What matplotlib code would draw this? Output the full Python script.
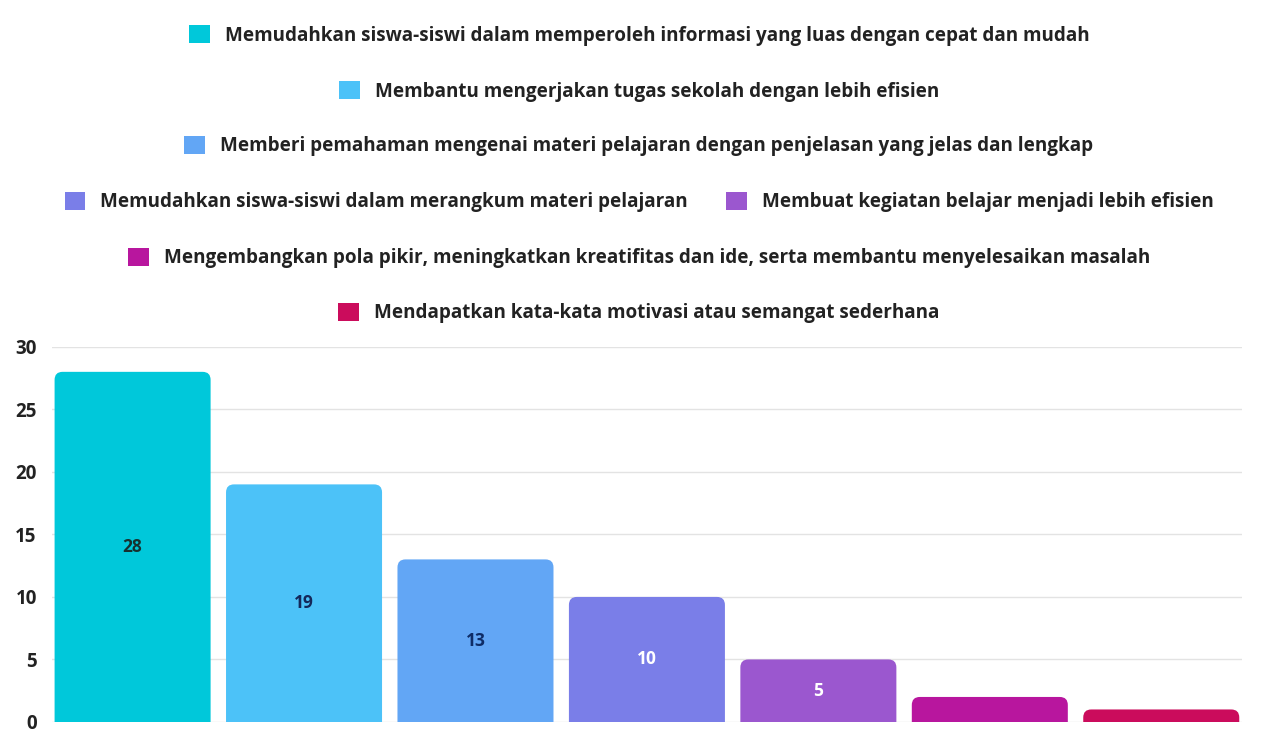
import matplotlib
matplotlib.use("Agg")
import matplotlib.pyplot as plt
from matplotlib.patches import FancyBboxPatch, Patch

categories = [
    "Memudahkan siswa-siswi dalam memperoleh informasi yang luas dengan cepat dan mudah",
    "Membantu mengerjakan tugas sekolah dengan lebih efisien",
    "Memberi pemahaman mengenai materi pelajaran dengan penjelasan yang jelas dan lengkap",
    "Memudahkan siswa-siswi dalam merangkum materi pelajaran",
    "Membuat kegiatan belajar menjadi lebih efisien",
    "Mengembangkan pola pikir, meningkatkan kreatifitas dan ide, serta membantu menyelesaikan masalah",
    "Mendapatkan kata-kata motivasi atau semangat sederhana",
]
values = [28, 19, 13, 10, 5, 2, 1]
colors = ["#00C8DA", "#4CC2F8", "#62A6F5", "#7A7EE8", "#9B57CF", "#B8169E", "#CB0C5C"]
label_colors = ["#17302f", "#14285a", "#0e2c66", "#ffffff", "#ffffff", "#ffffff", "#ffffff"]
yticks = [0, 5, 10, 15, 20, 25, 30]
legend_rows = [[0], [1], [2], [3, 4], [5], [6]]

plt.rcParams['font.family'] = ['Open Sans', 'DejaVu Sans']

fig = plt.figure(figsize=(12.78, 7.37), dpi=100)
ax = fig.add_axes([0.0407, 0.0204, 0.931, 0.509])

x = list(range(len(values)))
bars = ax.bar(x, values, width=0.91, color=colors, zorder=2)
ax.set_xlim(-0.47, 6.47)
ax.set_ylim(0, 30)

# replace rectangles with rounded-top versions
x_per_px = 6.94 / (0.931 * 1278)
y_per_px = 30 / (0.509 * 737)
r = 8 * x_per_px
aspect = y_per_px / x_per_px
for b in bars:
    bx, by = b.get_x(), b.get_y()
    bw, bh = b.get_width(), b.get_height()
    fp = FancyBboxPatch((bx, by - 1.0), bw, bh + 1.0,
                        boxstyle=f"round,pad=0,rounding_size={r}",
                        mutation_aspect=aspect,
                        facecolor=b.get_facecolor(), edgecolor="none", zorder=2)
    ax.add_patch(fp)
    b.set_visible(False)

for i, v in enumerate(values):
    if v >= 5:
        ax.text(i, v / 2, str(v), ha="center", va="center", fontsize=12.5,
                fontweight="bold", color=label_colors[i], zorder=3)

ax.set_yticks(yticks)
ax.set_yticklabels([str(t) for t in yticks], fontsize=13.5, fontweight="bold", color="#222222")
ax.set_xticks([])
ax.tick_params(axis="y", length=0, pad=11)
ax.grid(axis="y", color="#e3e3e3", linewidth=1.0, zorder=0)
for s in ax.spines.values():
    s.set_visible(False)

row_y = [0.952, 0.876, 0.802, 0.726, 0.650, 0.575]
for ry, row in zip(row_y, legend_rows):
    handles = [Patch(facecolor=colors[i], edgecolor="none") for i in row]
    labels = [categories[i] for i in row]
    leg = fig.legend(handles, labels, loc="center", bbox_to_anchor=(0.5, ry),
                     ncol=len(row), frameon=False, fontsize=13.6,
                     handlelength=1.1, handleheight=1.1, handletextpad=0.8,
                     columnspacing=2.0, borderpad=0, borderaxespad=0)
    for t in leg.get_texts():
        t.set_fontweight("bold")
        t.set_color("#222222")

fig.savefig("out.png", dpi=100, facecolor="white")
